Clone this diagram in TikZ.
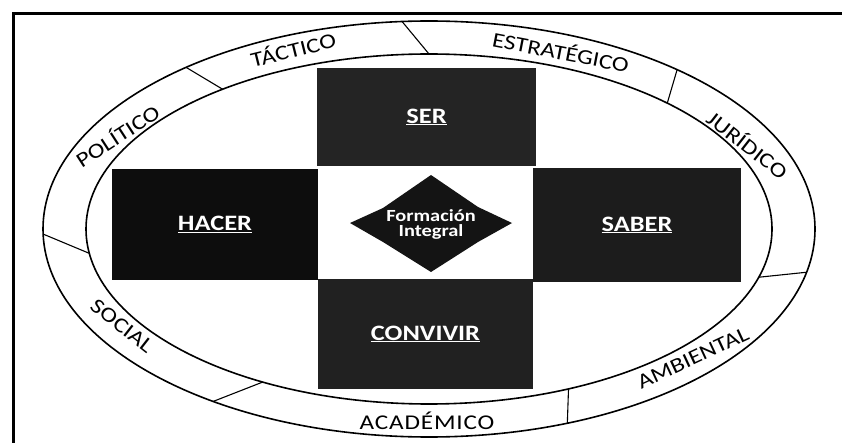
\documentclass[tikz,border=0pt]{standalone}
\usepackage{fontspec}
\setmainfont{Carlito}[FakeStretch=1.2]
\usetikzlibrary{calc}

\begin{document}
\begin{tikzpicture}[x=1pt,y=-1pt,
    ring/.style={font=\fontsize{21}{24}\selectfont,inner sep=0pt},
    area/.style={text=white,inner sep=0pt,outer sep=0pt,
      font=\fontsize{22}{26}\selectfont\bfseries},
    divline/.style={line width=1.1pt}]
      \useasboundingbox (0,0) rectangle (842,443);
      \coordinate (O) at (429,229);
      % frame
      \draw[line width=3pt] (842,13.5) -- (13.5,13.5) -- (13.5,443);
      % ring
      \draw[line width=1.6pt] (O) ellipse [x radius=386,y radius=208];
      \draw[line width=1.6pt] (O) ellipse [x radius=343,y radius=175];
      \foreach \a/\b in {231/233,266/270,310/314,12/16,69/66,124/119,178.6/172}
        \draw[divline] ($(O)+(\a:386 and 208)$) -- ($(O)+(\b:343 and 175)$);
      \node[ring,rotate=33] (politico) at (117,135) {POLÍTICO};
      \node[ring,rotate=14] (tactico) at (293,49) {TÁCTICO};
      \node[ring,rotate=-11] (estrategico) at (561,51) {ESTRATÉGICO};
      \node[ring,rotate=-38] (juridico) at (748,144) {JURÍDICO};
      \node[ring,rotate=25] (ambiental) at (693,358) {AMBIENTAL};
      \node[ring] (academico) at (427,421) {\addfontfeatures{LetterSpace=4}ACADÉMICO};
      \node[ring,rotate=-38] (social) at (122,326) {SOCIAL};
      % the four areas
      \node[area,fill=black!86,minimum width=219,minimum height=98] (ser) at (426.5,117) {\underline{SER}};
      \node[area,fill=black!95,minimum width=206,minimum height=111] (hacer) at (215,224.5) {\underline{HACER}};
      \node[area,fill=black!89,minimum width=208,minimum height=114] (saber) at (637,225) {\underline{SABER}};
      \node[area,fill=black!87,minimum width=215,minimum height=110] (convivir) at (425.5,334) {\underline{CONVIVIR}};
      % centre
      \fill[black!92] (431,175) -- (478,207) -- (512,223) -- (478,242) -- (431,272)
        -- (383,242) -- (350,223) -- (383,208) -- cycle;
      \node[text=white,align=center,font=\fontsize{17}{15}\selectfont\bfseries] (formacion) at (431,224) {Formación\\Integral};
    \end{tikzpicture}
\end{document}
